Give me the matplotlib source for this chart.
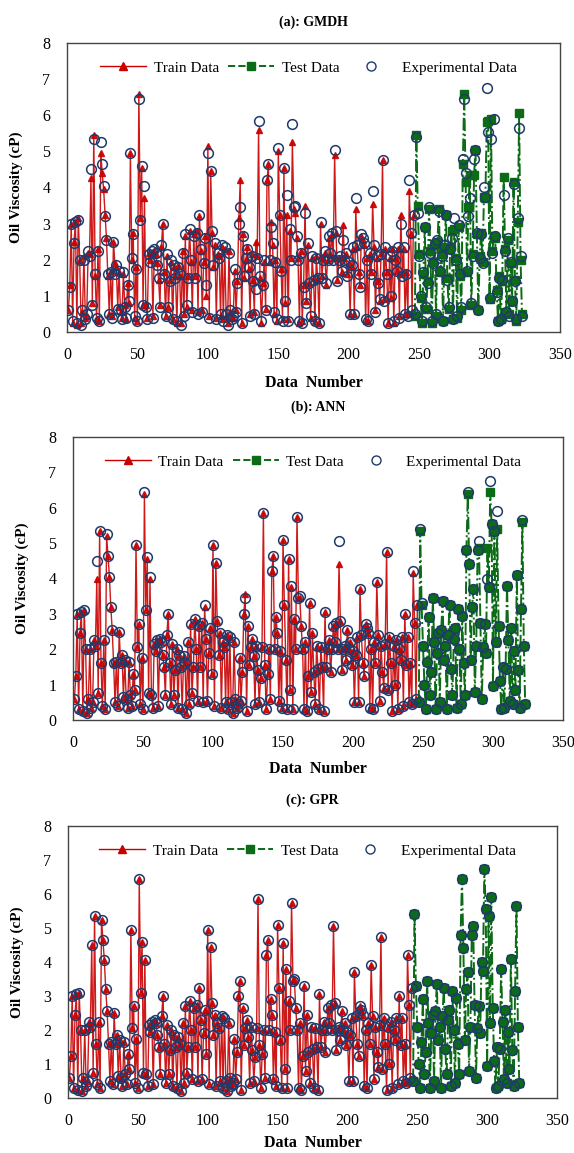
import numpy as np
import matplotlib
matplotlib.use('Agg')
import matplotlib.pyplot as plt
from matplotlib.lines import Line2D

# --- data: oil viscosity (cP) per sample number ---
# samples 1-246 are training points, 247-323 are test points
exp_train = [
    0.60, 1.25, 3.00, 0.30, 2.45, 3.05, 0.25, 3.10, 2.00, 0.20,
    0.60, 2.00, 0.35, 0.50, 2.25, 2.10, 4.50, 0.75, 5.35, 1.60,
    0.40, 2.25, 0.30, 5.25, 4.65, 4.05, 3.20, 2.55, 1.60, 0.50,
    1.65, 0.40, 2.50, 1.60, 1.85, 0.65, 1.70, 0.60, 0.35, 1.65,
    0.70, 0.40, 1.30, 0.85, 4.95, 2.05, 2.70, 0.45, 1.75, 0.30,
    6.45, 3.10, 4.60, 0.75, 4.05, 0.70, 0.35, 2.15, 1.95, 2.25,
    0.40, 2.30, 2.20, 1.85, 1.50, 0.70, 2.40, 3.00, 1.60, 0.45,
    2.15, 0.70, 1.40, 2.00, 0.35, 1.85, 1.50, 0.30, 1.80, 1.60,
    0.20, 2.20, 0.45, 2.70, 0.75, 1.50, 2.85, 2.00, 0.55, 2.65,
    1.50, 2.75, 0.50, 3.25, 2.30, 0.55, 1.90, 2.60, 1.30, 4.95,
    0.40, 4.45, 2.80, 1.85, 2.45, 0.35, 2.20, 2.05, 0.50, 2.40,
    0.30, 2.35, 0.50, 0.20, 2.20, 0.60, 0.35, 0.45, 1.75, 0.55,
    1.35, 3.00, 3.45, 0.25, 2.65, 1.55, 2.05, 2.30, 1.80, 0.45,
    2.10, 1.40, 0.50, 1.20, 2.05, 5.85, 1.55, 0.30, 1.30, 2.00,
    0.60, 4.20, 4.65, 2.00, 2.90, 2.45, 0.55, 1.95, 0.35, 5.10,
    3.25, 1.70, 0.30, 4.55, 0.85, 3.80, 0.30, 2.85, 2.00, 5.75,
    3.45, 3.50, 2.65, 2.00, 0.30, 2.20, 0.25, 1.25, 3.30, 0.80,
    2.45, 1.35, 0.45, 2.10, 1.45, 0.30, 2.05, 1.50, 0.25, 3.05,
    1.50, 2.00, 2.25, 1.35, 2.00, 2.65, 2.20, 2.75, 2.00, 5.05,
    2.80, 1.40, 2.00, 2.10, 1.70, 2.55, 2.00, 2.20, 1.55, 1.95,
    0.50, 1.85, 2.35, 0.50, 3.70, 2.40, 1.60, 1.25, 2.70, 2.60,
    2.45, 0.35, 2.00, 0.30, 2.20, 1.60, 3.90, 2.40, 0.55, 2.10,
    1.35, 0.90, 2.15, 4.75, 0.85, 2.35, 1.60, 0.25, 2.10, 1.00,
    2.25, 0.30, 2.00, 1.70, 2.35, 0.40, 3.00, 1.55, 2.35, 0.50,
    1.60, 0.45, 4.20, 2.75, 0.60, 3.25,
]
exp_test = [
    0.50, 5.40, 3.30, 2.10, 1.00, 0.30, 1.65, 2.90, 0.70, 1.35,
    3.45, 2.20, 0.30, 1.90, 2.45, 0.50, 2.55, 3.35, 1.70, 2.10,
    0.30, 2.40, 3.25, 1.45, 0.70, 2.30, 2.60, 0.35, 3.15, 2.00,
    0.45, 2.95, 1.60, 0.70, 4.80, 6.45, 4.40, 1.70, 3.20, 3.70,
    0.80, 2.10, 4.80, 5.05, 2.75, 0.60, 2.05, 2.70, 1.90, 4.00,
    3.75, 6.75, 5.55, 0.95, 5.35, 2.20, 5.90, 2.65, 1.10, 0.30,
    1.50, 0.35, 1.45, 3.80, 2.25, 0.55, 2.60, 0.45, 1.95, 0.85,
    4.10, 1.40, 0.35, 3.15, 5.65, 2.10, 0.45,
]

# GMDH model output
gmdh_train = [
    0.60, 1.30, 3.00, 0.25, 2.50, 3.05, 0.20, 3.15, 2.00, 0.25,
    0.55, 2.10, 0.40, 0.45, 2.20, 2.15, 4.25, 0.80, 5.45, 1.55,
    0.35, 2.30, 0.30, 4.95, 4.40, 3.95, 3.25, 2.60, 1.55, 0.50,
    1.70, 0.45, 2.50, 1.90, 1.80, 0.70, 1.65, 0.55, 0.40, 1.60,
    0.75, 0.35, 1.35, 0.80, 4.95, 2.00, 2.75, 0.40, 1.80, 0.30,
    6.60, 3.15, 4.55, 0.75, 3.70, 0.75, 0.40, 2.20, 2.00, 2.20,
    0.45, 2.25, 2.15, 1.90, 1.45, 0.75, 2.35, 3.00, 1.65, 0.45,
    2.10, 0.70, 1.45, 1.95, 0.35, 1.80, 1.55, 0.25, 1.85, 1.55,
    0.25, 2.25, 0.50, 2.65, 0.70, 1.55, 2.80, 1.95, 0.60, 2.70,
    1.55, 2.80, 0.55, 3.20, 2.25, 0.60, 1.95, 2.65, 1.00, 5.15,
    0.45, 4.45, 2.75, 1.80, 2.40, 0.40, 2.15, 2.10, 0.45, 2.35,
    0.35, 2.30, 0.45, 0.25, 2.25, 0.55, 0.40, 0.40, 1.70, 0.60,
    1.40, 3.15, 4.20, 0.25, 2.70, 1.50, 2.00, 2.35, 1.75, 0.50,
    2.15, 1.45, 0.55, 2.50, 2.10, 5.60, 1.50, 0.25, 1.35, 1.95,
    0.65, 4.20, 4.65, 1.95, 3.05, 2.40, 0.50, 2.00, 0.30, 5.00,
    3.25, 1.75, 0.35, 4.55, 0.80, 3.25, 0.35, 2.80, 2.05, 5.25,
    3.40, 3.30, 2.60, 2.05, 0.25, 2.25, 0.30, 1.30, 3.50, 0.85,
    2.40, 1.35, 0.40, 2.05, 1.50, 0.30, 2.10, 1.45, 0.25, 3.00,
    1.55, 2.05, 2.20, 1.30, 2.00, 2.60, 2.15, 2.70, 2.05, 4.90,
    2.75, 1.45, 2.05, 2.05, 1.65, 2.95, 2.05, 2.15, 1.60, 1.90,
    0.50, 1.80, 2.30, 0.50, 3.40, 2.35, 1.65, 1.30, 2.65, 2.55,
    2.40, 0.30, 2.05, 0.30, 2.15, 1.65, 3.55, 2.35, 0.60, 2.05,
    1.40, 0.85, 2.20, 4.75, 0.90, 2.30, 1.65, 0.25, 2.05, 0.95,
    2.30, 0.25, 2.05, 1.70, 2.30, 0.45, 3.25, 1.60, 2.30, 0.50,
    1.65, 0.50, 3.90, 2.70, 0.55, 3.25,
]
gmdh_test = [
    0.45, 5.45, 3.50, 2.15, 0.95, 0.25, 1.60, 2.90, 0.65, 1.40,
    3.40, 2.25, 0.25, 1.95, 2.40, 0.45, 2.50, 3.40, 1.65, 2.15,
    0.30, 2.35, 3.25, 1.50, 0.65, 2.30, 2.80, 0.35, 2.85, 2.05,
    0.40, 2.90, 1.55, 0.60, 4.65, 6.60, 4.15, 1.65, 3.45, 4.35,
    0.75, 2.15, 4.35, 5.05, 2.70, 0.60, 2.10, 2.75, 1.95, 3.75,
    3.70, 5.80, 5.85, 0.90, 5.90, 2.25, 2.65, 2.60, 1.15, 0.30,
    1.55, 0.35, 1.40, 4.30, 2.30, 0.55, 2.55, 0.50, 1.90, 0.85,
    4.15, 1.45, 0.30, 3.05, 6.05, 2.00, 0.50,
]

# ANN model output
ann_train = [
    0.60, 1.25, 3.00, 0.30, 2.45, 3.05, 0.25, 3.10, 2.00, 0.20,
    0.60, 2.00, 0.35, 0.50, 2.25, 2.10, 4.00, 0.75, 5.35, 1.60,
    0.40, 2.25, 0.30, 5.20, 4.65, 4.05, 3.20, 2.55, 1.60, 0.50,
    1.65, 0.40, 2.50, 1.60, 1.85, 0.65, 1.70, 0.60, 0.35, 1.65,
    0.70, 0.40, 1.30, 0.85, 4.95, 2.05, 2.70, 0.45, 1.75, 0.30,
    6.40, 3.10, 4.55, 0.75, 4.00, 0.70, 0.35, 2.15, 1.95, 2.25,
    0.40, 2.30, 2.20, 1.85, 1.50, 0.70, 2.40, 3.00, 1.60, 0.45,
    2.15, 0.70, 1.40, 2.00, 0.35, 1.85, 1.50, 0.30, 1.80, 1.60,
    0.20, 2.20, 0.45, 2.70, 0.75, 1.50, 2.85, 2.00, 0.55, 2.65,
    1.50, 2.75, 0.50, 3.20, 2.30, 0.55, 1.90, 2.60, 1.30, 4.95,
    0.40, 4.45, 2.80, 1.85, 2.45, 0.35, 2.20, 2.05, 0.50, 2.40,
    0.30, 2.35, 0.50, 0.20, 2.20, 0.60, 0.35, 0.45, 1.75, 0.55,
    1.35, 3.00, 3.55, 0.25, 2.65, 1.55, 2.05, 2.30, 1.80, 0.45,
    2.10, 1.40, 0.50, 1.20, 2.05, 5.85, 1.55, 0.30, 1.30, 2.00,
    0.60, 4.20, 4.65, 2.00, 2.90, 2.45, 0.55, 1.95, 0.35, 5.10,
    3.25, 1.70, 0.30, 4.55, 0.85, 3.75, 0.30, 2.85, 2.00, 5.75,
    3.45, 3.45, 2.65, 2.00, 0.30, 2.20, 0.25, 1.25, 3.30, 0.80,
    2.45, 1.35, 0.45, 2.10, 1.45, 0.30, 2.05, 1.50, 0.25, 3.05,
    1.50, 2.00, 2.25, 1.35, 2.00, 2.65, 2.20, 2.75, 2.00, 4.40,
    2.80, 1.40, 2.00, 2.10, 1.70, 2.55, 2.00, 2.20, 1.55, 1.95,
    0.50, 1.85, 2.35, 0.50, 3.70, 2.40, 1.60, 1.25, 2.70, 2.60,
    2.45, 0.35, 2.00, 0.30, 2.20, 1.60, 3.90, 2.40, 0.55, 2.10,
    1.35, 0.90, 2.15, 4.75, 0.85, 2.35, 1.60, 0.25, 2.10, 1.00,
    2.25, 0.30, 2.00, 1.70, 2.35, 0.40, 3.00, 1.55, 2.35, 0.50,
    1.60, 0.45, 4.15, 2.75, 0.60, 3.25,
]
ann_test = [
    0.50, 5.35, 3.25, 2.10, 1.00, 0.30, 1.65, 2.90, 0.70, 1.35,
    3.45, 2.20, 0.30, 1.90, 2.45, 0.50, 2.55, 3.35, 1.70, 2.10,
    0.30, 2.40, 3.25, 1.45, 0.70, 2.30, 2.60, 0.35, 3.15, 2.00,
    0.45, 2.95, 1.60, 0.70, 4.80, 6.40, 4.40, 1.70, 3.20, 3.70,
    0.80, 2.10, 4.80, 4.85, 2.75, 0.60, 2.05, 2.70, 1.90, 4.85,
    3.75, 6.45, 5.55, 0.95, 5.35, 2.20, 5.40, 2.65, 1.10, 0.30,
    1.50, 0.35, 1.45, 3.80, 2.25, 0.55, 2.60, 0.45, 1.95, 0.85,
    4.10, 1.40, 0.35, 3.15, 5.60, 2.10, 0.45,
]

# GPR model output
gpr_train = [
    0.60, 1.25, 3.00, 0.30, 2.45, 3.05, 0.25, 3.10, 2.00, 0.20,
    0.60, 2.00, 0.35, 0.50, 2.25, 2.10, 4.50, 0.75, 5.35, 1.60,
    0.40, 2.25, 0.30, 5.25, 4.65, 4.05, 3.20, 2.55, 1.60, 0.50,
    1.65, 0.40, 2.50, 1.60, 1.85, 0.65, 1.70, 0.60, 0.35, 1.65,
    0.70, 0.40, 1.30, 0.85, 4.95, 2.05, 2.70, 0.45, 1.75, 0.30,
    6.45, 3.10, 4.60, 0.75, 4.05, 0.70, 0.35, 2.15, 1.95, 2.25,
    0.40, 2.30, 2.20, 1.85, 1.50, 0.70, 2.40, 3.00, 1.60, 0.45,
    2.15, 0.70, 1.40, 2.00, 0.35, 1.85, 1.50, 0.30, 1.80, 1.60,
    0.20, 2.20, 0.45, 2.70, 0.75, 1.50, 2.85, 2.00, 0.55, 2.65,
    1.50, 2.75, 0.50, 3.25, 2.30, 0.55, 1.90, 2.60, 1.30, 4.95,
    0.40, 4.45, 2.80, 1.85, 2.45, 0.35, 2.20, 2.05, 0.50, 2.40,
    0.30, 2.35, 0.50, 0.20, 2.20, 0.60, 0.35, 0.45, 1.75, 0.55,
    1.35, 3.00, 3.45, 0.25, 2.65, 1.55, 2.05, 2.30, 1.80, 0.45,
    2.10, 1.40, 0.50, 1.20, 2.05, 5.85, 1.55, 0.30, 1.30, 2.00,
    0.60, 4.20, 4.65, 2.00, 2.90, 2.45, 0.55, 1.95, 0.35, 5.10,
    3.25, 1.70, 0.30, 4.55, 0.85, 3.80, 0.30, 2.85, 2.00, 5.75,
    3.45, 3.50, 2.65, 2.00, 0.30, 2.20, 0.25, 1.25, 3.30, 0.80,
    2.45, 1.35, 0.45, 2.10, 1.45, 0.30, 2.05, 1.50, 0.25, 3.05,
    1.50, 2.00, 2.25, 1.35, 2.00, 2.65, 2.20, 2.75, 2.00, 5.05,
    2.80, 1.40, 2.00, 2.10, 1.70, 2.55, 2.00, 2.20, 1.55, 1.95,
    0.50, 1.85, 2.35, 0.50, 3.70, 2.40, 1.60, 1.25, 2.70, 2.60,
    2.45, 0.35, 2.00, 0.30, 2.20, 1.60, 3.90, 2.40, 0.55, 2.10,
    1.35, 0.90, 2.15, 4.75, 0.85, 2.35, 1.60, 0.25, 2.10, 1.00,
    2.25, 0.30, 2.00, 1.70, 2.35, 0.40, 3.00, 1.55, 2.35, 0.50,
    1.60, 0.45, 4.20, 2.75, 0.60, 3.25,
]
gpr_test = [
    0.50, 5.40, 3.30, 2.10, 1.00, 0.30, 1.65, 2.90, 0.70, 1.35,
    3.45, 2.20, 0.30, 1.90, 2.45, 0.50, 2.55, 3.35, 1.70, 2.10,
    0.30, 2.40, 3.25, 1.45, 0.70, 2.30, 2.60, 0.35, 3.15, 2.00,
    0.45, 2.95, 1.60, 0.70, 4.80, 6.45, 4.40, 1.70, 3.20, 3.70,
    0.80, 2.10, 4.80, 5.05, 2.75, 0.60, 2.05, 2.70, 1.90, 4.00,
    3.75, 6.75, 5.55, 0.95, 5.35, 2.20, 5.90, 2.65, 1.10, 0.30,
    1.50, 0.35, 1.45, 3.80, 2.25, 0.55, 2.60, 0.45, 1.95, 0.85,
    4.10, 1.40, 0.35, 3.15, 5.65, 2.10, 0.45,
]

titles = ['(a): GMDH', '(b): ANN', '(c): GPR']
x_ticks = [0, 50, 100, 150, 200, 250, 300, 350]
y_ticks = [0, 1, 2, 3, 4, 5, 6, 7, 8]

train_x = np.arange(1, len(exp_train) + 1)
test_x = np.arange(len(exp_train) + 1, len(exp_train) + len(exp_test) + 1)
all_x = np.concatenate([train_x, test_x])
all_exp = np.array(exp_train + exp_test)

plt.rcParams['font.family'] = ['Liberation Serif', 'DejaVu Serif']

RED = '#C80000'
GREEN = '#0B6B16'
NAVY = '#1F3A6B'

W, H = 574, 1153
fig = plt.figure(figsize=(W / 100, H / 100), dpi=100)

# pixel boxes (left, top, right, bottom) + title / xlabel rows
layout = [
    ((67, 43, 560, 332), 22, 383),
    ((73, 437, 563, 720), 407, 769),
    ((68, 826, 557, 1098), 800, 1143),
]
models = [(gmdh_train, gmdh_test), (ann_train, ann_test), (gpr_train, gpr_test)]

for title, (box, ty, xly), (p_train, p_test) in zip(titles, layout, models):
    l, t, r, b = box
    ax = fig.add_axes([l / W, 1 - b / H, (r - l) / W, (b - t) / H])

    ax.plot(train_x, p_train, color=RED, lw=1.0, alpha=0.9,
            marker='^', ms=5, mfc=RED, mec=RED, zorder=2)
    ax.plot(test_x, p_test, color=GREEN, lw=1.4, ls='-.',
            marker='s', ms=5.5, mfc=GREEN, mec=GREEN, zorder=2)
    ax.plot(all_x, all_exp, ls='none', marker='o', ms=7, mfc='none',
            mec=NAVY, mew=1.1, zorder=3)

    ax.set_xlim(0, 350)
    ax.set_ylim(0, 8)
    ax.set_xticks(x_ticks)
    ax.set_yticks(y_ticks)
    ax.tick_params(length=0, labelsize=11.5)
    ax.tick_params(axis='x', pad=11)
    ax.tick_params(axis='y', pad=12)
    for s in ax.spines.values():
        s.set_color('#444444')
        s.set_linewidth(1.0)

    ax.set_ylabel('Oil Viscosity (cP)', fontsize=11, fontweight='bold', labelpad=14)

    fig.text((l + r) / 2 / W, 1 - ty / H, title, ha='center', va='center',
             fontsize=10, fontweight='bold')
    fig.text((l + r) / 2 / W, 1 - xly / H, 'Data  Number', ha='center', va='center',
             fontsize=11.5, fontweight='bold')

    handles = [
        Line2D([], [], color=RED, lw=1.0, marker='^', ms=5.5, mfc=RED, mec=RED),
        Line2D([], [], color=GREEN, lw=1.4, ls='--', marker='s', ms=5.5, mfc=GREEN, mec=GREEN),
        Line2D([], [], ls='none', marker='o', ms=6.5, mfc='none', mec=NAVY),
    ]
    ax.legend(handles, ['Train Data', 'Test Data', 'Experimental Data'],
              loc='upper center', bbox_to_anchor=(0.49, 0.985), ncol=3,
              frameon=False, fontsize=11, handlelength=3.0, columnspacing=0.6,
              handletextpad=0.5)

fig.savefig('out.png', dpi=100)
